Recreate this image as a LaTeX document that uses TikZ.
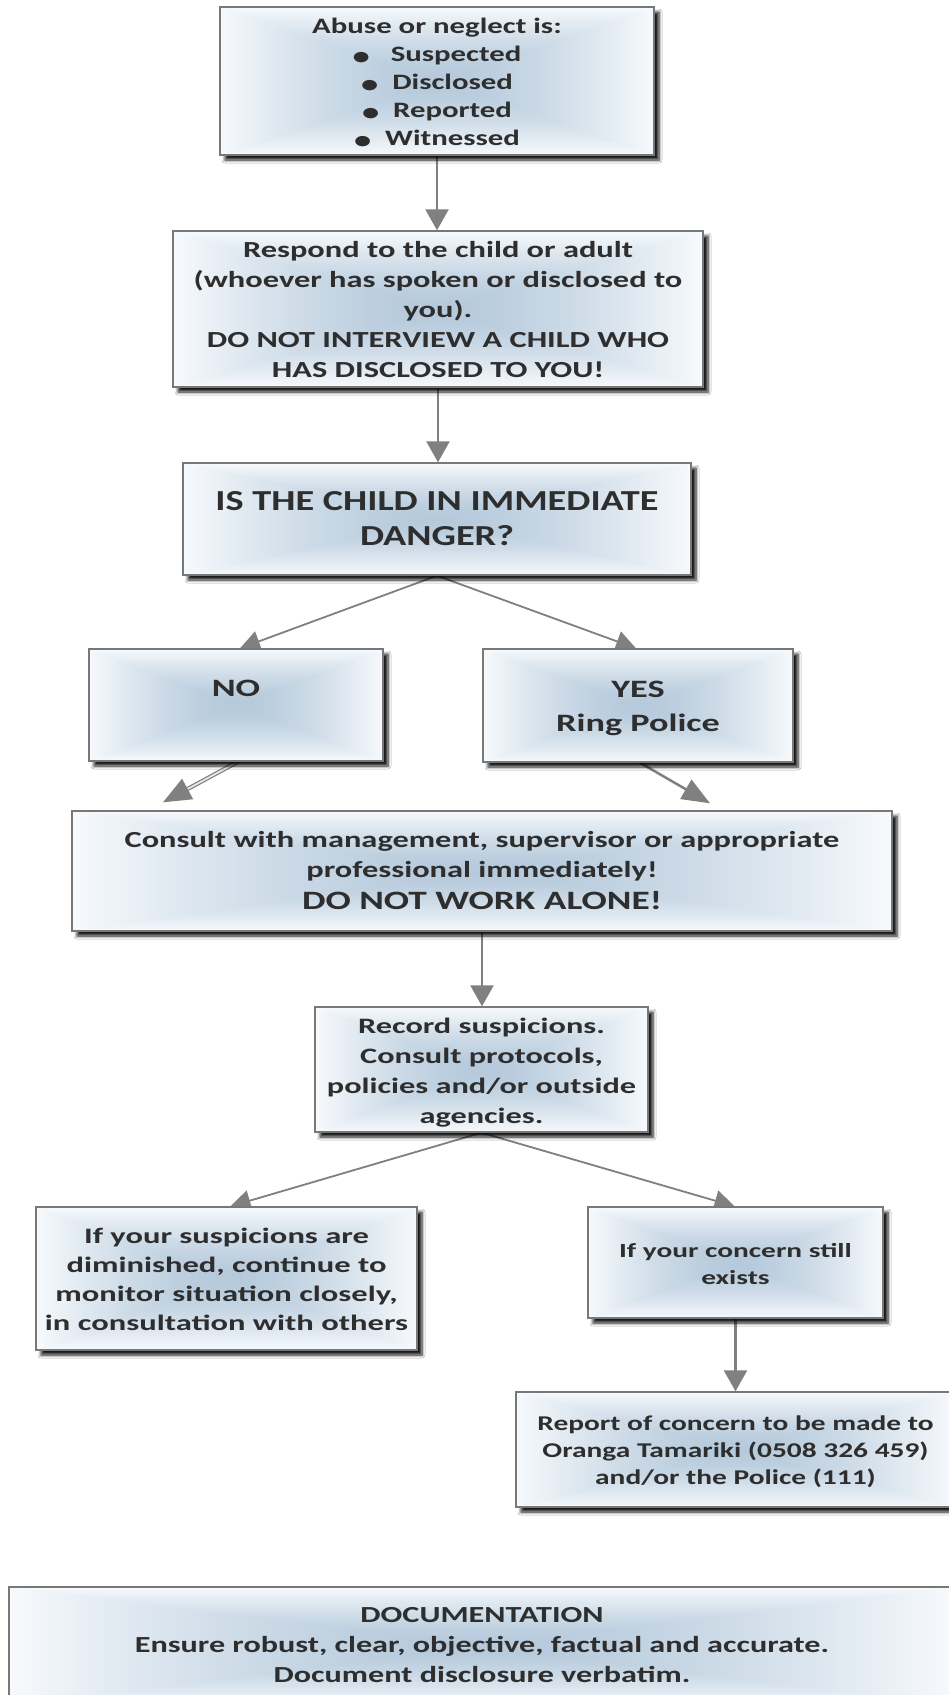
\documentclass[tikz,border=0pt]{standalone}
\usepackage{fontspec}
\setmainfont{Carlito}
\usepackage{graphicx}
\usetikzlibrary{arrows.meta,shadows.blur,backgrounds}
\definecolor{arrcol}{RGB}{128,128,128}
\definecolor{boxline}{RGB}{120,120,120}
\definecolor{txtcol}{RGB}{46,46,46}
\pgfdeclarefunctionalshading{boxshade}{\pgfpoint{-50bp}{-50bp}}{\pgfpoint{50bp}{50bp}}{}{%
abs exch abs 2 copy lt {exch} if pop 25 div dup 1 gt {pop 1} if dup sqrt mul
dup 0.26 mul 0.71 add exch
dup 0.19 mul 0.79 add exch
0.13 mul 0.86 add
}
\newcommand\boxtext[5][3pt]{{\fontsize{#3}{#4}\selectfont\raisebox{-#1}[\height][\depth]{\scalebox{#2}[1]{\begin{tabular}{@{}c@{}}#5\end{tabular}}}}}
\newcommand\bul{\raisebox{-0.14em}{\scalebox{1.12}{•}}}
\begin{document}
\begin{tikzpicture}[x=1pt,y=-1pt,
  box/.style={draw=boxline, line width=1.4pt, shade, shading=boxshade, inner sep=0pt,
    text=txtcol, font=\bfseries,
    blur shadow={shadow xshift=5pt, shadow yshift=-5pt, shadow blur radius=3pt,
      shadow blur steps=6, shadow opacity=90}},
  varr/.style={draw=arrcol, line width=2.5pt, -{Triangle[length=21pt,width=23pt]}},
  darr/.style={draw=arrcol, line width=1.8pt, -{Triangle[length=20pt,width=21pt]}},
  farr/.style={draw=arrcol, line width=2.5pt, -{Triangle[length=28pt,width=22pt]}},
  dblline/.style={draw=arrcol, line width=1.2pt, double=white!80!arrcol, double distance=1.8pt, shorten >=24pt},
  dbltip/.style={draw=arrcol, line width=1.5pt, shorten <=75pt, -{Triangle[length=28pt,width=23pt]}}]
\useasboundingbox (0,0) rectangle (949,1695);

\node[box, minimum width=434pt, minimum height=148pt] (b1) at (437,81)
  {\boxtext{1.40}{22}{28}{Abuse or neglect is:\\ \bul\hspace{15pt}Suspected\\ \bul\hspace{10pt}Disclosed\\ \bul\hspace{10pt}Reported\\ \bul\hspace{10pt}Witnessed}};
\node[box, minimum width=530pt, minimum height=156pt] (b2) at (438,309)
  {\boxtext[2pt]{1.41}{23}{30}{Respond to the child or adult\\ (whoever has spoken or disclosed to\\ you).\\ DO NOT INTERVIEW A CHILD WHO\\ HAS DISCLOSED TO YOU!}};
\node[box, minimum width=508pt, minimum height=112pt] (b3) at (437,519)
  {\boxtext[2pt]{1.32}{29}{34.5}{IS THE CHILD IN IMMEDIATE\\ DANGER?}};
\node[box, minimum width=294pt, minimum height=112pt] (no) at (236,705)
  {\boxtext[2pt]{1.45}{25}{34}{NO\\ \mbox{}}};
\node[box, minimum width=310pt, minimum height=113pt] (yes) at (638,705.5)
  {\boxtext[2pt]{1.45}{25}{34}{YES\\ Ring Police}};
\node[box, minimum width=820pt, minimum height=120pt] (cons) at (482,871)
  {\boxtext[1pt]{1.41}{23}{30}{Consult with management, supervisor or appropriate\\ professional immediately!\\[2pt] \fontsize{26.5}{30}\selectfont DO NOT WORK ALONE!}};
\node[box, minimum width=333pt, minimum height=125pt] (rec) at (481.5,1069.5)
  {\boxtext{1.47}{22}{30}{Record suspicions.\\ Consult protocols,\\ policies and/or outside\\ agencies.}};
\node[box, minimum width=381pt, minimum height=143pt] (sus) at (226.5,1278.5)
  {\boxtext{1.48}{22}{29}{If your suspicions are\\ diminished, continue to\\ monitor situation closely,\\ in consultation with others}};
\node[box, minimum width=295pt, minimum height=111pt] (conc) at (735.5,1262.5)
  {\boxtext{1.47}{20}{27}{If your concern still\\ exists}};
\node[box, minimum width=439pt, minimum height=115pt] (rep) at (735.5,1449.5)
  {\boxtext{1.40}{21}{27}{Report of concern to be made to\\ Oranga Tamariki (0508 326 459)\\ and/or the Police (111)}};
\node[box, minimum width=946pt, minimum height=118pt] (doc) at (482,1646)
  {\boxtext[0pt]{1.40}{23}{30}{DOCUMENTATION\\ Ensure robust, clear, objective, factual and accurate.\\ Document disclosure verbatim.}};

\begin{scope}[on background layer]
\fill[white] (0,0) rectangle (949,1695);
\draw[varr] (b1.south) -- (b1.south |- b2.north);
\draw[varr] (b2.south) -- (b2.south |- b3.north);
\draw[darr] (b3.south) -- ([xshift=4pt]no.north);
\draw[darr] (b3.south) -- ([xshift=-2pt]yes.north);
\draw[dblline] ([xshift=2pt]no.south) -- ([xshift=-319pt,yshift=8pt]cons.north);
\draw[dbltip] ([xshift=2pt]no.south) -- ([xshift=-319pt,yshift=8pt]cons.north);
\draw[farr] ([xshift=2pt]yes.south) -- ([xshift=228pt,yshift=7pt]cons.north);
\draw[varr] (cons.south) -- (cons.south |- rec.north);
\draw[darr] (rec.south) -- ([xshift=4pt]sus.north);
\draw[darr] (rec.south) -- ([xshift=-1pt]conc.north);
\draw[varr] (conc.south) -- (conc.south |- rep.north);
\end{scope}
\end{tikzpicture}
\end{document}
